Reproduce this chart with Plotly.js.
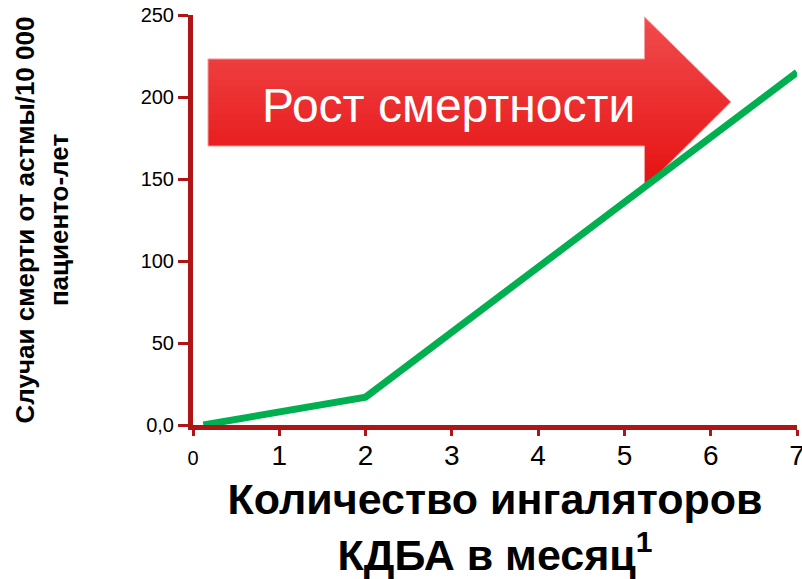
<!DOCTYPE html>
<html>
<head>
<meta charset="utf-8">
<script src="https://cdn.plot.ly/plotly-3.0.1.min.js"></script>
<style>html,body{margin:0;padding:0;background:#fff;}#chart{width:802px;height:579px;}</style>
</head>
<body>
<div id="chart"></div>
<script>
// Data
const inhalersPerMonth = [0.12, 2, 7];
const deathsPer10000 = [0, 17, 215];
const xTickVals = [0, 1, 2, 3, 4, 5, 6, 7];
const xTickText = ['<span style="font-size:20px">0</span>', '1', '2', '3', '4', '5', '6', '7'];
const yTickVals = [0, 50, 100, 150, 200, 250];
const yTickText = ['0,0', '50', '100', '150', '200', '250'];
const arrowLabel = 'Рост смертности';

const axisColor = '#AE1516';
const font = 'Liberation Sans, Arial, sans-serif';

const trace = {
  x: inhalersPerMonth,
  y: deathsPer10000,
  type: 'scatter',
  mode: 'lines',
  line: {color: '#00B050', width: 7},
  hoverinfo: 'skip',
  cliponaxis: false
};

// Arrow polygon (data coordinates) with vertical gradient built from clipped bands
const bx0 = 0.174, bx1 = 5.233, tipx = 6.233;
const byTop = 223.2, byBot = 170.1, hTop = 248.8, hBot = 144.5, tipy = 197;
const arrowPoly = [[bx0, byTop], [bx1, byTop], [bx1, hTop], [tipx, tipy], [bx1, hBot], [bx1, byBot], [bx0, byBot]];

function clipY(poly, yv, keepAbove) {
  const out = [];
  for (let i = 0; i < poly.length; i++) {
    const a = poly[i], b = poly[(i + 1) % poly.length];
    const ina = keepAbove ? a[1] >= yv : a[1] <= yv;
    const inb = keepAbove ? b[1] >= yv : b[1] <= yv;
    if (ina) out.push(a);
    if (ina !== inb) {
      const t = (yv - a[1]) / (b[1] - a[1]);
      out.push([a[0] + t * (b[0] - a[0]), yv]);
    }
  }
  return out;
}
function mix(c1, c2, t) {
  const r = Math.round(c1[0] + (c2[0] - c1[0]) * t);
  const g = Math.round(c1[1] + (c2[1] - c1[1]) * t);
  const b = Math.round(c1[2] + (c2[2] - c1[2]) * t);
  return `rgb(${r},${g},${b})`;
}
const topCol = [240, 76, 78], botCol = [230, 16, 16];
const shapes = [];
const nBands = 30;
const bandH = (hTop - hBot) / nBands;
for (let i = 0; i < nBands; i++) {
  const ya = hBot + i * bandH - 0.3;
  const yb = hBot + (i + 1) * bandH + 0.3;
  let p = clipY(arrowPoly, ya, true);
  p = clipY(p, yb, false);
  if (p.length < 3) continue;
  const t = (i + 0.5) / nBands; // 0 bottom .. 1 top
  shapes.push({
    type: 'path', xref: 'x', yref: 'y', layer: 'below',
    path: 'M ' + p.map(q => q[0] + ',' + q[1]).join(' L ') + ' Z',
    fillcolor: mix(botCol, topCol, t),
    line: {width: 0}
  });
}
shapes.push({
  type: 'path', xref: 'x', yref: 'y', layer: 'below',
  path: 'M ' + arrowPoly.map(q => q[0] + ',' + q[1]).join(' L ') + ' Z',
  fillcolor: 'rgba(0,0,0,0)',
  line: {color: '#F3A0A0', width: 1}
});

const layout = {
  width: 802, height: 579,
  margin: {l: 193, r: 5, t: 15, b: 154},
  paper_bgcolor: '#fff', plot_bgcolor: '#fff',
  showlegend: false,
  font: {family: font, color: '#000'},
  xaxis: {
    range: [0, 7],
    tickvals: xTickVals, ticktext: xTickText,
    tickfont: {size: 28, family: font, color: '#000'},
    ticklabeloverflow: 'allow',
    ticklabelstandoff: -5,
    showgrid: false, zeroline: false,
    showline: true, linecolor: axisColor, linewidth: 5,
    ticks: 'outside', ticklen: 6, tickwidth: 3, tickcolor: axisColor,
    fixedrange: true,
    title: {
      text: 'Количество ингаляторов<br>КДБА в месяц<sup>1</sup>',
      font: {size: 43, family: font, color: '#000', weight: 'bold'},
      standoff: 16
    }
  },
  yaxis: {
    range: [0, 250],
    tickvals: yTickVals, ticktext: yTickText,
    tickfont: {size: 20, family: font, color: '#000'},
    showgrid: false, zeroline: false,
    showline: true, linecolor: axisColor, linewidth: 5,
    ticks: 'outside', ticklen: 10, tickwidth: 3, tickcolor: axisColor,
    fixedrange: true,
    title: {
      text: 'Случаи смерти от астмы/10 000<br>пациенто-лет',
      font: {size: 26, family: font, color: '#000', weight: 'bold'},
      standoff: 66
    }
  },
  shapes: shapes,
  annotations: [{
    x: 2.965, y: 195, xref: 'x', yref: 'y',
    text: arrowLabel, showarrow: false,
    font: {size: 48, family: font, color: '#fff'}
  }]
};

Plotly.newPlot('chart', [trace], layout, {displayModeBar: false, staticPlot: true});
</script>
</body>
</html>
